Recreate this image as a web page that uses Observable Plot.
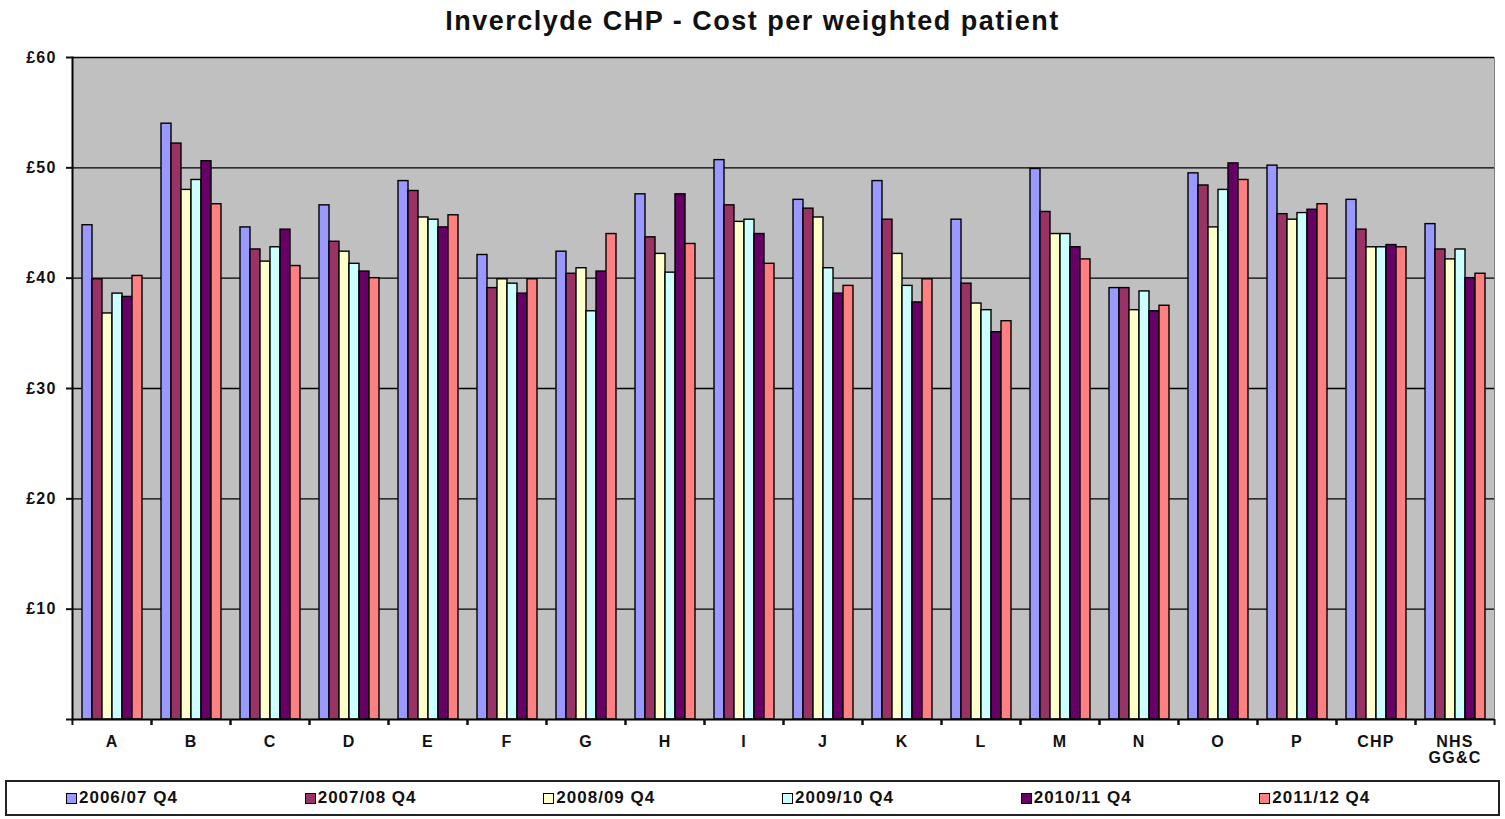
<!DOCTYPE html>
<html>
<head>
<meta charset="utf-8">
<script src="https://cdn.jsdelivr.net/npm/d3@7"></script>
<script src="https://cdn.jsdelivr.net/npm/@observablehq/plot@0.6"></script>
<style>
  html, body { margin: 0; padding: 0; background: #fff; }
  body { width: 1505px; height: 819px; overflow: hidden; font-family: "Liberation Sans", Arial, sans-serif; }
  #title { height: 40px; line-height: 42px; text-align: center; font-size: 27px; font-weight: bold; color: #111; letter-spacing: 1.5px; }
  #chart svg { display: block; }
  #chart svg text { letter-spacing: 1.2px; }
  #legend { position: absolute; left: 5px; top: 780px; width: 1495px; height: 36px; box-sizing: border-box; border: 2px solid #222; display: flex; align-items: center; padding-left: 59px; }
  .item { width: 250px; display: flex; align-items: center; font-size: 17px; font-weight: bold; color: #111; letter-spacing: 1px; }
  .sw { width: 9px; height: 9px; border: 1px solid #000; margin-right: 2px; }
</style>
</head>
<body>
<div id="title">Inverclyde CHP - Cost per weighted patient</div>
<div id="chart"></div>
<div id="legend"></div>
<script>
const categories = ["A","B","C","D","E","F","G","H","I","J","K","L","M","N","O","P","CHP","NHS GG&C"];
const series = ["2006/07 Q4","2007/08 Q4","2008/09 Q4","2009/10 Q4","2010/11 Q4","2011/12 Q4"];
const colors = ["#9999ff","#993366","#ffffcc","#ccffff","#660066","#ff8080"];

const v2006 = [44.8, 54.0, 44.6, 46.6, 48.8, 42.1, 42.4, 47.6, 50.7, 47.1, 48.8, 45.3, 49.9, 39.1, 49.5, 50.2, 47.1, 44.9];
const v2007 = [39.9, 52.2, 42.6, 43.3, 47.9, 39.1, 40.4, 43.7, 46.6, 46.3, 45.3, 39.5, 46.0, 39.1, 48.4, 45.8, 44.4, 42.6];
const v2008 = [36.8, 48.0, 41.5, 42.4, 45.5, 39.9, 40.9, 42.2, 45.1, 45.5, 42.2, 37.7, 44.0, 37.1, 44.6, 45.3, 42.8, 41.7];
const v2009 = [38.6, 48.9, 42.8, 41.3, 45.3, 39.5, 37.0, 40.5, 45.3, 40.9, 39.3, 37.1, 44.0, 38.8, 48.0, 45.9, 42.8, 42.6];
const v2010 = [38.3, 50.6, 44.4, 40.6, 44.6, 38.6, 40.6, 47.6, 44.0, 38.6, 37.8, 35.1, 42.8, 37.0, 50.4, 46.2, 43.0, 40.0];
const v2011 = [40.2, 46.7, 41.1, 40.0, 45.7, 39.9, 44.0, 43.1, 41.3, 39.3, 39.9, 36.1, 41.7, 37.5, 48.9, 46.7, 42.8, 40.4];
const yTicks = [0, 10, 20, 30, 40, 50, 60];

const values = [v2006, v2007, v2008, v2009, v2010, v2011];
const data = categories.flatMap((cat, i) => series.map((s, j) => ({cat, series: s, value: values[j][i]})));

const W = 1505, ML = 71, MR = 10;
const fw = (W - ML - MR) / categories.length;

const chart = Plot.plot({
  width: W,
  height: 735,
  marginLeft: ML,
  marginRight: MR,
  marginTop: 17,
  marginBottom: 56,
  style: {fontFamily: "'Liberation Sans', Arial, sans-serif", color: "#111", background: "transparent"},
  fx: {domain: categories, padding: 0, label: null},
  x: {domain: series, paddingInner: 0, paddingOuter: 0.6, axis: null},
  y: {domain: [0, 60], label: null},
  color: {domain: series, range: colors},
  marks: [
    Plot.frame({fill: "#c0c0c0", stroke: "#c0c0c0", strokeWidth: 1}),
    Plot.ruleY(yTicks.filter(d => d > 0), {stroke: "#000", strokeWidth: 1.4}),
    Plot.barY(data, {fx: "cat", x: "series", y: "value", fill: "series", stroke: "#000", strokeWidth: 1.4}),
    Plot.ruleY([0], {stroke: "#000", strokeWidth: 2}),
    Plot.frame({anchor: "left", facetAnchor: "left", stroke: "#000", strokeWidth: 2}),
    Plot.frame({anchor: "right", facetAnchor: "right", stroke: "#808080", strokeWidth: 1}),
    Plot.axisY({ticks: yTicks, tickFormat: d => d === 0 ? "" : "£" + d, tickSize: 6, tickPadding: 10, fontSize: 16, fontWeight: "bold", label: null, strokeWidth: 2}),
    Plot.axisFx({anchor: "bottom", tickSize: 6, tickFormat: () => "", dx: fw / 2, label: null, strokeWidth: 2}),
    Plot.axisFx({anchor: "bottom", tickSize: 6, tickFormat: () => "", dx: -fw / 2, label: null, strokeWidth: 2}),
    Plot.axisFx({anchor: "bottom", tickSize: 0, tickPadding: 16, fontSize: 16, fontWeight: "bold", label: null,
      tickFormat: d => d === "NHS GG&C" ? "NHS\nGG&C" : d})
  ]
});
document.getElementById("chart").appendChild(chart);

const legend = document.getElementById("legend");
series.forEach((s, j) => {
  const item = document.createElement("div");
  item.className = "item";
  const sw = document.createElement("div");
  sw.className = "sw";
  sw.style.background = colors[j];
  const t = document.createElement("span");
  t.textContent = s;
  item.appendChild(sw);
  item.appendChild(t);
  legend.appendChild(item);
});
</script>
</body>
</html>
